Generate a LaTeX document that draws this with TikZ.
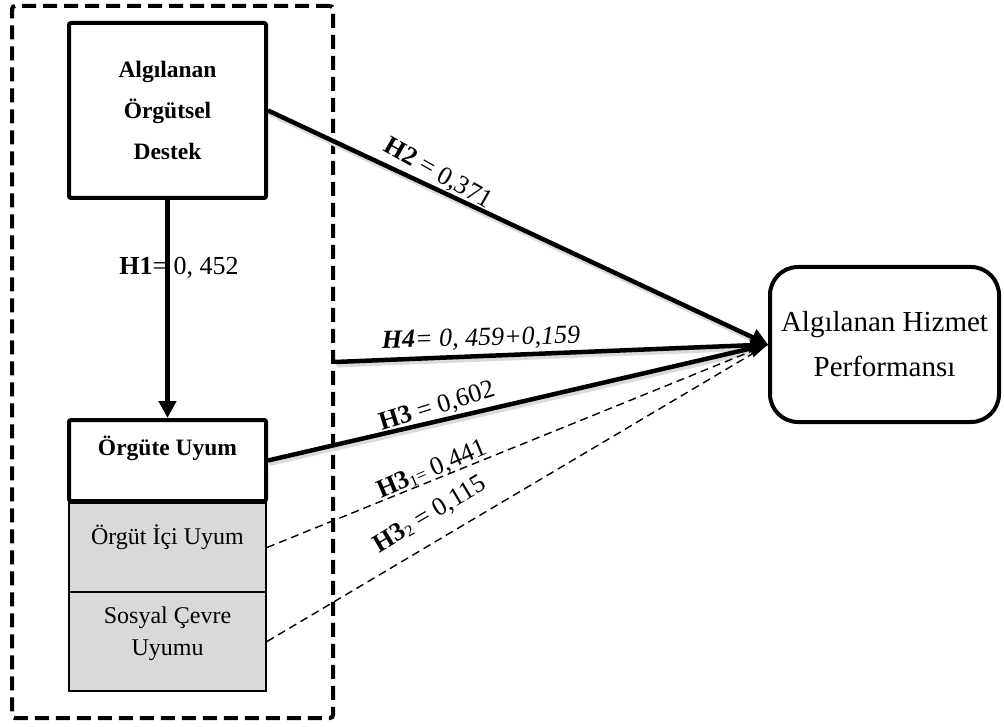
\documentclass[tikz,border=0pt]{standalone}
\usepackage{fontspec}
\setmainfont{Liberation Serif}
\usetikzlibrary{arrows.meta}
\definecolor{boxgray}{RGB}{217,217,217}

\begin{document}
\begin{tikzpicture}[x=1pt,y=-1pt,
  thickbox/.style={draw, line width=4pt, rounded corners=2pt, inner sep=0pt, minimum width=197pt},
  subbox/.style={draw, line width=2pt, fill=boxgray, inner sep=0pt, minimum width=197pt},
  link/.style={line width=4.5pt, -{Triangle[length=17pt,width=17pt]}},
  linkshade/.style={line width=5pt, black!14, shorten >=14pt,
                    transform canvas={xshift=1.5pt,yshift=-3pt}},
  weak/.style={line width=1.4pt, dash pattern=on 8pt off 5pt},
  lbl/.style={inner sep=0pt, font=\fontsize{26}{30}\selectfont},
  boxtxt/.style={inner sep=0pt, align=center, font=\fontsize{24}{32}\selectfont},
]
\useasboundingbox (0,0) rectangle (1004,727);

% dashed frame around the antecedent constructs
\node[draw, line width=4pt, dash pattern=on 14pt off 7pt, rounded corners=3pt,
      minimum width=321pt, minimum height=712pt, inner sep=0pt] (grp) at (172.5,362) {};

% constructs
\node[thickbox, minimum height=175pt, align=center,
      font=\bfseries\fontsize{23.5}{41}\selectfont] (aod) at (167.5,110.5)
      {Algılanan\\Örgütsel\\Destek};
\node[subbox, minimum height=89pt] (ici) at (167.5,547.5) {};
\node[subbox, minimum height=99pt] (sosyal) at (167.5,641.5) {};
\node[thickbox, minimum height=81pt] (uyum) at (167.5,460.5) {};
\node[boxtxt, font=\bfseries\fontsize{23.5}{30}\selectfont] (uyumtxt) at (167.5,448) {Örgüte Uyum};
\node[boxtxt] (icitxt) at (167.5,537) {Örgüt İçi Uyum};
\node[boxtxt] (sosyaltxt) at (167.5,634) {Sosyal Çevre\\Uyumu};

\node[draw, line width=4pt, rounded corners=28pt, minimum width=229pt, minimum height=155pt,
      align=center, font=\fontsize{29}{45}\selectfont] (perf) at (884.5,344.5)
      {Algılanan Hizmet\\Performansı};

% path coefficients
\node[lbl] (h1) at (179,268) {\textbf{H1}= 0, 452};
\node[lbl, rotate=-29.5] (h2) at (438,174) {\textbf{H2} = 0,371};
\node[lbl, rotate=1.5] (h4) at (481,339) {\textbf{\textit{H4}}\textit{= 0, 459+0,159}};
\node[lbl, rotate=17] (h3) at (437,407) {\textbf{H3} = 0,602};
\node[lbl, rotate=23] (h31) at (432,470)
      {\textbf{H3}\raisebox{-2pt}{\fontsize{16}{16}\selectfont 1}{\fontsize{18}{18}\selectfont =} 0,441};
\node[lbl, rotate=31] (h32) at (430,515)
      {\textbf{H3}\raisebox{-2pt}{\fontsize{16}{16}\selectfont 2} = 0,115};

% soft shadows under the solid paths
\draw[linkshade] (aod.east) -- (perf.west);
\draw[linkshade] (grp.east) -- (perf.west);
\draw[linkshade] (uyum.east) -- (perf.west);

% connectors
\draw[weak] (ici.east) -- (perf.west);
\draw[weak] (sosyal.east) -- (perf.west);
\draw[link] (aod.south) -- (uyum.north);
\draw[link] (aod.east) -- (perf.west);
\draw[link] (grp.east) -- (perf.west);
\draw[link] (uyum.east) -- (perf.west);
\end{tikzpicture}
\end{document}
